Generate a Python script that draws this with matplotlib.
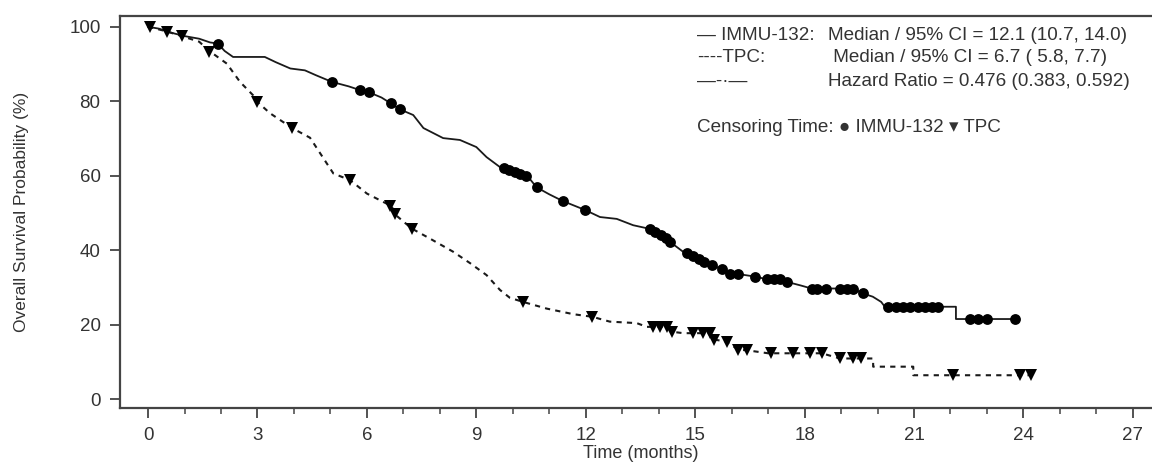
import matplotlib
matplotlib.use("Agg")
import matplotlib.pyplot as plt
from matplotlib.ticker import MultipleLocator

plt.rcParams['font.family'] = ['Liberation Sans', 'DejaVu Sans']

# Kaplan-Meier curves (months, % surviving)
immu_t = [0, 0.3, 0.6, 1.0, 1.4, 1.7, 1.91, 2.1, 2.33, 3.2, 3.5, 3.9, 4.3, 4.6, 5.04, 5.5,
          5.81, 6.06, 6.4, 6.66, 6.91, 7.27, 7.55, 8.09, 8.55, 9.0, 9.28, 9.65, 9.75, 10.42,
          10.65, 11.0, 11.37, 11.98, 12.39, 12.85, 13.3, 13.67, 14.3, 14.72, 15.45, 15.73,
          15.95, 16.17, 16.64, 16.96, 17.32, 17.51, 17.9, 18.19, 19.33, 19.59, 19.87, 20.1,
          20.2, 22.15, 22.15, 23.77]
immu_s = [100, 99.5, 98.5, 97.5, 96.8, 95.8, 95.5, 93.5, 91.9, 91.9, 90.5, 88.8, 88.3, 87.0,
          85.2, 84.0, 83.0, 82.4, 81.0, 79.4, 77.8, 76.3, 72.8, 70.1, 69.6, 67.7, 65.0, 62.3,
          62.0, 59.7, 56.9, 55.0, 53.2, 50.8, 48.9, 48.4, 46.7, 45.9, 42.3, 39.2, 36.0, 34.9,
          33.6, 33.6, 32.9, 32.2, 32.2, 31.5, 30.5, 29.7, 29.7, 28.4, 27.5, 26.1,
          24.8, 24.8, 21.5, 21.5]

tpc_t = [0, 0.5, 0.92, 1.4, 1.68, 2.16, 2.52, 2.88, 3.0, 3.34, 3.95, 4.44, 5.08, 5.54, 6.0,
         6.68, 6.77, 7.23, 7.73, 8.36, 8.83, 9.28, 9.65, 9.92, 10.28, 10.93, 11.66, 12.18,
         12.66, 13.4, 13.67, 14.22, 14.36, 14.67, 15.41, 15.52, 15.86, 16.18, 16.5, 17.0,
         18.47, 18.97, 19.88, 19.88, 20.98, 20.98, 24.22]
tpc_s = [100, 98.8, 97.5, 96.0, 93.5, 90.1, 85.2, 81.6, 79.8, 76.8, 72.8, 70.2, 60.6, 58.8,
         55.2, 51.8, 49.6, 45.8, 43.1, 39.6, 36.5, 33.3, 29.3, 27.2, 26.1, 24.3, 22.8, 22.1,
         20.8, 20.4, 19.4, 19.4, 18.1, 17.7, 17.7, 16.0, 15.4, 13.3, 13.0, 12.3,
         12.3, 10.9, 10.9, 8.7, 8.7, 6.4, 6.4]

# censoring marks
immu_cens_t = [1.91, 5.04, 5.81, 6.06, 6.66, 6.91, 9.75, 9.9, 10.05, 10.2, 10.35, 10.65, 11.37,
               11.98, 13.76, 13.9, 14.05, 14.2, 14.3, 14.77, 14.95, 15.1, 15.25, 15.45, 15.73,
               15.95, 16.17, 16.64, 16.96, 17.15, 17.32, 17.51, 18.19, 18.35, 18.6, 18.97,
               19.15, 19.33, 19.59, 20.3, 20.5, 20.7, 20.9, 21.1, 21.3, 21.5, 21.65, 22.53,
               22.75, 22.99, 23.77]
immu_cens_s = [95.5, 85.2, 83.0, 82.4, 79.4, 77.8, 62.0, 61.5, 61.0, 60.5, 60.0, 56.9, 53.2,
               50.8, 45.6, 45.0, 44.2, 43.2, 42.3, 39.2, 38.5, 37.6, 36.8, 36.0, 34.9,
               33.6, 33.6, 32.9, 32.2, 32.2, 32.2, 31.5, 29.7, 29.7, 29.7, 29.7,
               29.7, 29.7, 28.4, 24.8, 24.8, 24.8, 24.8, 24.8, 24.8, 24.8, 24.8, 21.5,
               21.5, 21.5, 21.5]
tpc_cens_t = [0.05, 0.51, 0.92, 1.68, 3.0, 3.95, 5.54, 6.63, 6.77, 7.23, 10.28, 12.18, 13.85,
              14.03, 14.22, 14.36, 14.95, 15.22, 15.41, 15.52, 15.86, 16.18, 16.41, 17.09,
              17.69, 18.15, 18.47, 18.97, 19.33, 19.56, 22.07, 23.9, 24.22]
tpc_cens_s = [100, 98.6, 97.5, 93.2, 79.8, 72.8, 58.8, 51.8, 49.6, 45.8, 26.1, 22.1, 19.4,
              19.4, 19.4, 18.1, 17.7, 17.7, 17.7, 16.0, 15.4, 13.3, 13.3, 12.3,
              12.3, 12.3, 12.3, 10.9, 10.9, 10.9, 6.4, 6.4, 6.4]

legend_rows = [("\u2014 IMMU-132:", "Median / 95% CI = 12.1 (10.7, 14.0)"),
               ("----TPC:", " Median / 95% CI = 6.7 ( 5.8, 7.7)"),
               ("\u2014-\u00b7\u2014", "Hazard Ratio = 0.476 (0.383, 0.592)")]
censor_text = "Censoring Time: \u25cf IMMU-132 \u25be TPC"

W, H = 1152, 465
fig = plt.figure(figsize=(W / 100, H / 100), dpi=100)
ax = fig.add_axes([120 / W, 57 / H, (1162 - 120) / W, (408 - 16) / H])

ink = "#1a1a1a"
ax.plot(immu_t, immu_s, color=ink, lw=1.3)
ax.plot(tpc_t, tpc_s, color=ink, lw=1.5, linestyle=(0, (2.5, 2.5)))
ax.plot(immu_cens_t, immu_cens_s, "o", color="black", ms=7.8, mew=0)
ax.plot(tpc_cens_t, tpc_cens_s, "v", color="black", ms=8, mew=0)

ax.set_xlim(-0.77, 27.8)
ax.set_ylim(-2.4, 102.9)
ax.xaxis.set_major_locator(MultipleLocator(3))
ax.xaxis.set_minor_locator(MultipleLocator(1))
ax.set_xticks(range(0, 28, 3))
ax.set_yticks(range(0, 101, 20))
ax.tick_params(axis="both", which="major", direction="out", length=7, width=1.3,
               color="#444444", labelsize=13.5, labelcolor="#333333", pad=7)
ax.tick_params(axis="x", which="minor", direction="out", length=4, width=1.1,
               color="#444444")
for side in ["left", "bottom", "top"]:
    ax.spines[side].set_linewidth(1.6)
    ax.spines[side].set_color("#444444")
ax.spines["right"].set_visible(False)

fig.text(641 / W, 1 - 453 / H, "Time (months)", ha="center", va="center",
         fontsize=13, color="#333333")
fig.text(22 / W, 1 - 212 / H, "Overall Survival Probability (%)", ha="center",
         va="center", rotation=90, fontsize=12.5, color="#333333")

row_y = [36, 58, 81]
for (lab, txt), yy in zip(legend_rows, row_y):
    fig.text(697 / W, 1 - yy / H, lab, ha="left", va="center", fontsize=13.6, color="#333333")
    fig.text(828 / W, 1 - yy / H, txt, ha="left", va="center", fontsize=13.6, color="#333333")
fig.text(697 / W, 1 - 127 / H, censor_text, ha="left", va="center", fontsize=13.6,
         color="#333333")

fig.savefig("out.png", dpi=100)
